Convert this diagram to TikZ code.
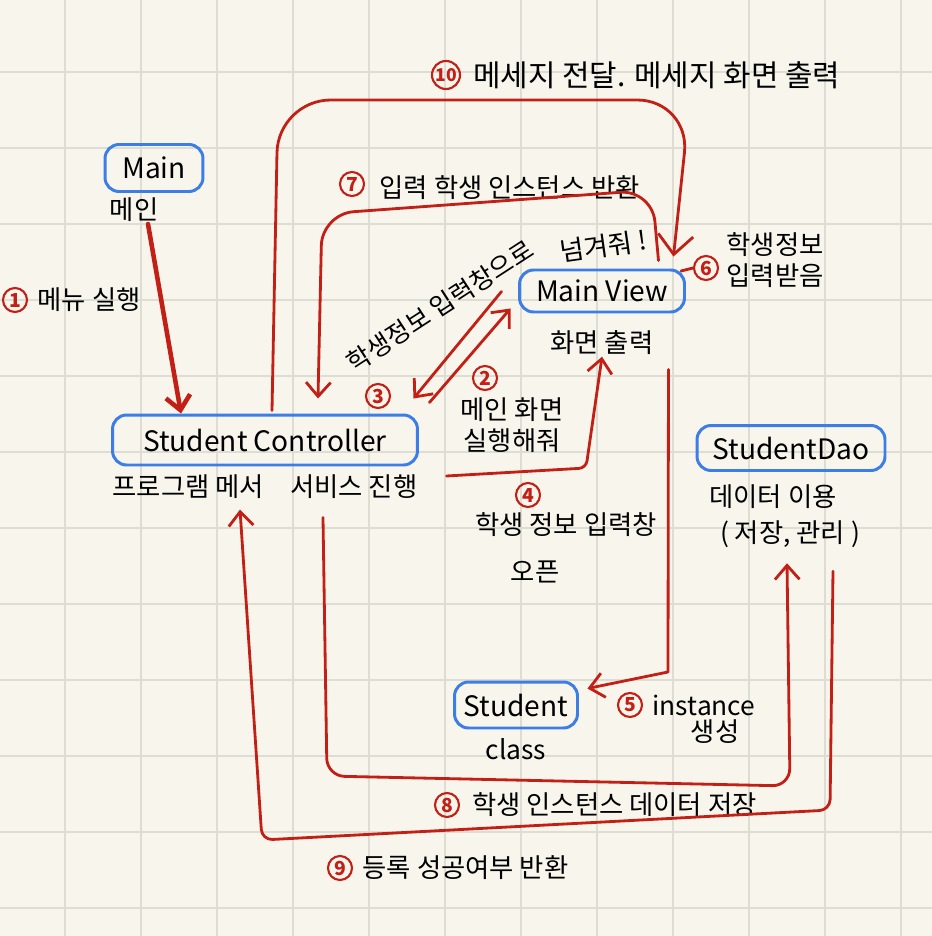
\documentclass[tikz,border=0pt]{standalone}
\usepackage{fontspec}
\setmainfont{Noto Sans CJK KR}
\usepackage{xcolor}
\usetikzlibrary{arrows.meta, positioning, calc}
\definecolor{paper}{HTML}{F8F6EC}
\definecolor{gridc}{HTML}{DEDDD3}
\definecolor{hred}{HTML}{C21F17}
\definecolor{hblue}{HTML}{3C7DE6}

\begin{document}
\begin{tikzpicture}[
    x=0.02cm, y=-0.02cm,
    cls/.style={draw=hblue, line width=1.7pt, rounded corners=8pt, align=center, font=\fontsize{16}{19}\selectfont, inner sep=0pt},
    sub/.style={font=\fontsize{15}{18}\selectfont, inner sep=1pt},
    note/.style={font=\fontsize{15}{18}\selectfont, anchor=west, inner sep=1pt},
    num/.style={circle, draw=hred, text=hred, line width=1.2pt, inner sep=0pt, minimum size=0.48cm, font=\fontsize{11}{11}\selectfont\bfseries},
    arr/.style={draw=hred, line width=1.6pt, line cap=round, line join=round, -{Straight Barb[length=8pt, width=14pt]}},
    link/.style={draw=hred, line width=1.6pt, line cap=round},
]

% paper and grid
\useasboundingbox (0,0) rectangle (932,936);
\fill[paper] (0,0) rectangle (932,936);
\foreach \gx in {65,141,...,902} \draw[gridc, line width=1.2pt] (\gx,0) -- (\gx,936);
\foreach \gy in {72,148,...,908} \draw[gridc, line width=1.2pt] (0,\gy) -- (932,\gy);

% classes
\node[cls, minimum width=1.96cm, minimum height=0.94cm] (main) at (154,168) {Main};
\node[sub, below=0.06cm of main, xshift=-0.4cm] (mainsub) {메인};
\node[cls, minimum width=3.3cm, minimum height=0.84cm] (view) at (602,291) {Main View};
\node[sub, below=0.3cm of view] (viewsub) {화면 출력};
\node[cls, minimum width=6.1cm, minimum height=1.0cm] (ctrl) at (265,440) {Student Controller};
\node[sub, below=0.12cm of ctrl] (ctrlsub) {프로그램 메서\quad 서비스 진행};
\node[cls, minimum width=3.76cm, minimum height=0.9cm] (dao) at (791,448) {StudentDao};
\node[sub, below=0.22cm of dao, xshift=-0.36cm] (daosub) {데이터 이용};
\node[sub, below=0.16cm of daosub, xshift=0.34cm] (daosubb) {( 저장, 관리 )};
\node[cls, minimum width=2.46cm, minimum height=0.92cm] (stud) at (516,705) {Student};
\node[sub, below=0.14cm of stud] (studsub) {class};

% step numbers and notes
\node[num, minimum size=0.56cm, font=\fontsize{10}{10}\selectfont\bfseries] (n10) at (446,75) {10};
\node[note, font=\fontsize{17}{20}\selectfont, right=0.2cm of n10] (t10) {메세지 전달. 메세지 화면 출력};
\node[num] (n7) at (352,184) {7};
\node[note, right=0.25cm of n7, yshift=-0.08cm] (t7) {입력 학생 인스턴스 반환};
\node[num] (n1) at (15,300) {1};
\node[note, right=0.15cm of n1] (t1) {메뉴 실행};
\node[num] (n2) at (485,378) {2};
\node[sub, align=center] (t2) at (512,425) {메인 화면\\실행해줘};
\node[num] (n3) at (378,396) {3};
\node[sub, rotate=33, font=\fontsize{14.5}{17}\selectfont] (t3) at (440,306) {학생정보 입력창으로};
\node[sub, rotate=8] (t3b) at (603,246) {넘겨줘 !};
\node[num] (n4) at (528,495) {4};
\node[sub] (t4) at (566,525) {학생 정보 입력창};
\node[sub] (t4b) at (535,572) {오픈};
\node[num] (n5) at (630,705) {5};
\node[note, right=0.15cm of n5] (t5) {instance};
\node[sub] (t5b) at (715,732) {생성};
\node[num] (n6) at (706,268) {6};
\node[sub, align=left] (t6) at (775,260) {학생정보\\입력받음};
\node[num] (n8) at (447,805) {8};
\node[note, right=0.2cm of n8] (t8) {학생 인스턴스 데이터 저장};
\node[num] (n9) at (340,868) {9};
\node[note, right=0.15cm of n9] (t9) {등록 성공여부 반환};

% bends
\coordinate (b4) at (586,468);
\coordinate (b5) at (668,672);
\coordinate (c7a) at (652,190);
\coordinate (c7b) at (322,214);
\coordinate (c10a) at (278,100);
\coordinate (c10b) at (690,100);
\coordinate (c8a) at (327,776);
\coordinate (c8b) at (790,786);
\coordinate (c9a) at (830,810);
\coordinate (c9b) at (262,840);

% connectors
\draw[arr, line width=2.6pt] ([xshift=0.28cm]mainsub.south) -- ([xshift=1.4cm]ctrl.north west);
\draw[arr] ([xshift=0.21cm,yshift=0.22cm]ctrl.north east) -- ([xshift=-0.15cm,yshift=0.1cm]view.south west);
\draw[arr] ([xshift=-0.33cm,yshift=0.44cm]view.south west) -- ([xshift=-0.11cm,yshift=0.3cm]ctrl.north east);
\draw[arr, rounded corners=4pt] ([xshift=0.55cm,yshift=-0.72cm]ctrl.east) -- (b4) -- (viewsub.south);
\draw[arr] ([xshift=-0.35cm,yshift=-1.12cm]view.south east) -- (b5) -- ([xshift=0.17cm,yshift=-0.16cm]stud.north east);
\draw[link] ([xshift=-0.1cm,yshift=-0.05cm]view.north east) -- (n6.west);
\draw[arr, rounded corners=18pt] ([xshift=-0.55cm,yshift=0.16cm]view.north east) -- (c7a) -- (c7b) -- ([xshift=1.06cm,yshift=0.3cm]ctrl.north);
\draw[arr, rounded corners=30pt, -{Straight Barb[length=11pt, width=20pt]}] ([xshift=0.14cm,yshift=0.06cm]ctrl.north) -- (c10a) -- (c10b) -- ([xshift=-0.25cm,yshift=0.24cm]view.north east);
\draw[arr, rounded corners=10pt] ([xshift=1.16cm,yshift=-0.34cm]ctrlsub.south) -- (c8a) -- (c8b) -- ([xshift=-0.06cm,yshift=-0.26cm]daosubb.south);
\draw[arr, rounded corners=6pt] ([xshift=0.86cm,yshift=-0.42cm]daosubb.south) -- (c9a) -- (c9b) -- ([xshift=-0.5cm,yshift=-0.18cm]ctrlsub.south);

\end{tikzpicture}
\end{document}
